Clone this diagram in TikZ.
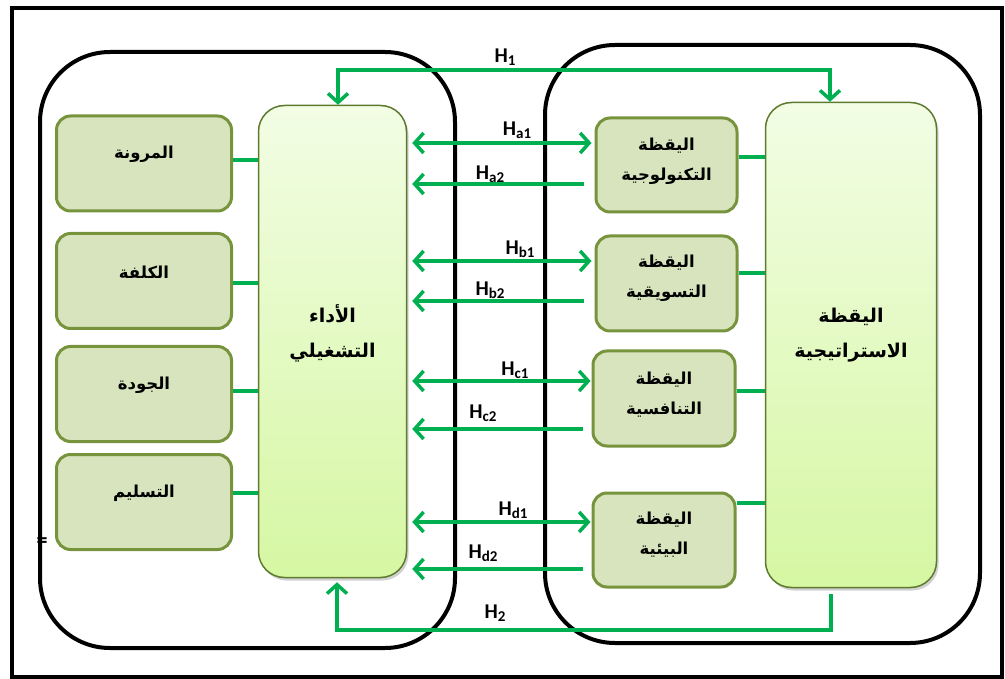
\documentclass[tikz,border=0pt]{standalone}
\usepackage{fontspec}
\setmainfont{Carlito}
\newfontfamily\arabicfont[Script=Arabic]{DejaVu Sans}
\TeXXeTstate=1
\usetikzlibrary{arrows.meta,shadows,calc}
\definecolor{hgreen}{HTML}{00B050}
\definecolor{olivec}{HTML}{77933C}
\definecolor{olivefill}{HTML}{D7E4BD}
\definecolor{darkolive}{HTML}{5E7A2E}
\definecolor{topgreen}{HTML}{F2FDE4}
\definecolor{botgreen}{HTML}{D6F7A3}
\tikzset{
  container/.style={draw=black, line width=4pt, rounded corners=70pt, inner sep=0pt},
  smallbox/.style={draw=olivec, fill=olivefill, line width=3pt, rounded corners=14pt, inner sep=0pt},
  tallbox/.style={draw=darkolive, line width=1.5pt, rounded corners=26pt, top color=topgreen, bottom color=botgreen, inner sep=0pt,
    drop shadow={shadow xshift=2pt, shadow yshift=-3pt, opacity=0.3, fill=black!60}},
  conn/.style={draw=hgreen, line width=4pt},
  barb/.tip={Straight Barb[length=9pt,width=20pt]},
  harrow/.style={draw=hgreen, line width=3.5pt, line join=miter},
  artext/.style={font=\arabicfont\bfseries\fontsize{16.5}{30}\selectfont, align=center, inner sep=0pt},
  bigtext/.style={font=\arabicfont\bfseries\fontsize{19}{35}\selectfont, align=center, inner sep=0pt},
  hlab/.style={font=\bfseries\fontsize{21}{21}\selectfont, inner sep=0pt}
}
\newcommand{\hl}[1]{H\raisebox{-3pt}{\fontsize{15}{15}\selectfont #1}}
\begin{document}
\begin{tikzpicture}[x=1pt,y=-1pt]
\useasboundingbox (0,0) rectangle (1005,679);
% outer frame
\node[draw=black, line width=4pt, minimum width=990pt, minimum height=669pt, inner sep=0pt] (frame) at (506.5,342.5) {};
% containers
\node[container, minimum width=415pt, minimum height=596pt] (leftc) at (247.5,350) {};
\node[container, minimum width=435pt, minimum height=598pt] (rightc) at (762.5,344) {};
% left small boxes
\node[smallbox, minimum width=175pt, minimum height=95pt] (flex) at (144,163.5) {};
\node[smallbox, minimum width=175pt, minimum height=95pt] (cost) at (144,281) {};
\node[smallbox, minimum width=175pt, minimum height=95pt] (qual) at (144,394) {};
\node[smallbox, minimum width=175pt, minimum height=95pt] (deliv) at (144,502) {};
\node[artext] (flexT) at ([yshift=9pt]flex.center) {\beginR المرونة\endR};
\node[artext] (costT) at ([yshift=9pt]cost.center) {\beginR الكلفة\endR};
\node[artext] (qualT) at ([yshift=9pt]qual.center) {\beginR الجودة\endR};
\node[artext] (delivT) at ([yshift=9pt]deliv.center) {\beginR التسليم\endR};
% tall boxes
\node[tallbox, minimum width=148pt, minimum height=472pt] (perf) at (332.5,341.5) {};
\node[tallbox, minimum width=171pt, minimum height=485pt] (strat) at (851,345) {};
\node[bigtext] (perfT) at (332.5,333) {\beginR الأداء\endR\\\beginR التشغيلي\endR};
\node[bigtext] (stratT) at (851,335) {\beginR اليقظة\endR\\\beginR الاستراتيجية\endR};
% right small boxes
\node[smallbox, minimum width=141pt, minimum height=94pt] (tech) at (666.5,165) {};
\node[smallbox, minimum width=141pt, minimum height=95pt] (mark) at (666.5,283.5) {};
\node[smallbox, minimum width=142pt, minimum height=95pt] (comp) at (664,398.5) {};
\node[smallbox, minimum width=142pt, minimum height=94pt] (envi) at (664,540) {};
\node[artext] (techT) at ([yshift=4pt]tech.center) {\beginR اليقظة\endR\\\beginR التكنولوجية\endR};
\node[artext] (markT) at ([yshift=5pt]mark.center) {\beginR اليقظة\endR\\\beginR التسويقية\endR};
\node[artext] (compT) at ([yshift=4pt]comp.center) {\beginR اليقظة\endR\\\beginR التنافسية\endR};
\node[artext] (enviT) at ([yshift=5pt]envi.center) {\beginR اليقظة\endR\\\beginR البيئية\endR};
% left connectors
\draw[conn] ([yshift=3.5pt]flex.east) -- ([yshift=3.5pt]flex.east -| perf.west);
\draw[conn] ([yshift=-2pt]cost.east) -- ([yshift=-2pt]cost.east -| perf.west);
\draw[conn] ([yshift=3pt]qual.east) -- ([yshift=3pt]qual.east -| perf.west);
\draw[conn] ([yshift=9pt]deliv.east) -- ([yshift=9pt]deliv.east -| perf.west);
% right connectors
\draw[conn] ([yshift=8pt]tech.east) -- ([yshift=8pt]tech.east -| strat.west);
\draw[conn] ([yshift=10.5pt]mark.east) -- ([yshift=10.5pt]mark.east -| strat.west);
\draw[conn] ([yshift=7.5pt]comp.east) -- ([yshift=7.5pt]comp.east -| strat.west);
\draw[conn] ([yshift=37pt]envi.east) -- ([yshift=37pt]envi.east -| strat.west);
% arrow anchor coordinates
\path (tech.west) ++(0,-22) coordinate (a1);
\path (tech.west) ++(0,19) coordinate (a2);
\path (mark.west) ++(0,-22.5) coordinate (b1);
\path (mark.west) ++(0,17.5) coordinate (b2);
\path (comp.west) ++(0,-17.5) coordinate (c1);
\path (comp.west) ++(0,30.5) coordinate (c2);
\path (envi.west) ++(0,-18) coordinate (d1);
\path (envi.west) ++(0,29) coordinate (d2);
% H arrows
\draw[harrow, {barb}-{barb}, shorten <=5pt, shorten >=3pt] (perf.east |- a1) -- (a1);
\draw[harrow, -{barb}, shorten <=11pt, shorten >=5pt] (a2) -- (perf.east |- a2);
\draw[harrow, {barb}-{barb}, shorten <=5pt, shorten >=3pt] (perf.east |- b1) -- (b1);
\draw[harrow, -{barb}, shorten <=11pt, shorten >=5pt] (b2) -- (perf.east |- b2);
\draw[harrow, {barb}-{barb}, shorten <=5pt, shorten >=1pt] (perf.east |- c1) -- (c1);
\draw[harrow, -{barb}, shorten <=9pt, shorten >=5pt] (c2) -- (perf.east |- c2);
\draw[harrow, {barb}-{barb}, shorten <=5pt, shorten >=1pt] (perf.east |- d1) -- (d1);
\draw[harrow, -{barb}, shorten <=9pt, shorten >=5pt] (d2) -- (perf.east |- d2);
% H1 and H2
\coordinate (h1y) at (0,70);
\coordinate (h2y) at (0,630);
\draw[harrow, {barb}-{barb}] ([xshift=5.5pt]perf.north) -- ([xshift=5.5pt]perf.north |- h1y) -- ([xshift=-21pt]strat.north |- h1y) -- ([xshift=-21pt]strat.north);
\draw[harrow, -{barb}, shorten <=6pt, shorten >=4pt] ([xshift=-20pt]strat.south) -- ([xshift=-20pt]strat.south |- h2y) -- ([xshift=4.5pt]perf.south |- h2y) -- ([xshift=4.5pt]perf.south);
% labels
\node[hlab] (lH1) at (505,57) {\hl{1}};
\node[hlab] (lH2) at (495,613) {\hl{2}};
\node[hlab] (lHa1) at (517,130) {\hl{a1}};
\node[hlab] (lHa2) at (490,174) {\hl{a2}};
\node[hlab] (lHb1) at (520,249) {\hl{b1}};
\node[hlab] (lHb2) at (490,290) {\hl{b2}};
\node[hlab] (lHc1) at (515,370) {\hl{c1}};
\node[hlab] (lHc2) at (483,413) {\hl{c2}};
\node[hlab] (lHd1) at (513,510) {\hl{d1}};
\node[hlab] (lHd2) at (483,553) {\hl{d2}};
\node[font=\bfseries\fontsize{22}{22}\selectfont, inner sep=0pt] (eq) at (42,543) {=};
\end{tikzpicture}
\end{document}
